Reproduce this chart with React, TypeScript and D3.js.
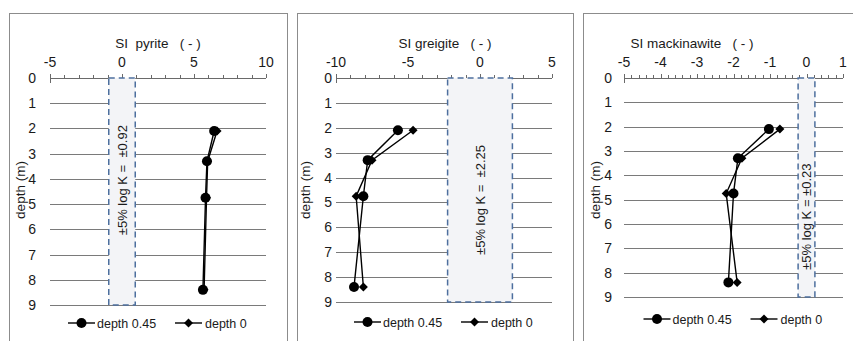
import React from "react";
import * as d3 from "d3";

// ---- data ----
const depths = [2.1, 3.3, 4.75, 8.4];
const pyrite045 = [6.4, 5.9, 5.8, 5.62];
const pyrite0 = [6.6, 5.95, 5.87, 5.7];
const greigite045 = [-5.7, -7.8, -8.1, -8.75];
const greigite0 = [-4.65, -7.5, -8.6, -8.1];
const mack045 = [-1.03, -1.88, -2.0, -2.14];
const mack0 = [-0.73, -1.77, -2.2, -1.9];
const seriesNames = ["depth 0.45", "depth 0"];
const titles = ["SI  pyrite   ( - )", "SI greigite   ( - )", "SI mackinawite   ( - )"];
const bandValues = [0.92, 2.25, 0.23];
const bandLabels = ["±5% log K =  ±0.92", "±5% log K =  ±2.25", "±5% log K = ±0.23"];
const xDomains: [number, number][] = [[-5, 10], [-10, 5], [-5, 1]];
const xTickSteps = [5, 5, 1];
const xMinorSteps = [1, 1, 0.2];
const depthTicks = [0, 1, 2, 3, 4, 5, 6, 7, 8, 9];

// ---- layout ----
const layouts = [
  { bx: 9, bw: 278, x0: 50, x1: 266, y1: 305, yTickX: 36, yLabX: 20, titleX: 158, legY: 323, bandTextDepth: 4.05 },
  { bx: 297, bw: 276, x0: 336, x1: 552, y1: 302, yTickX: 332, yLabX: 305, titleX: 445, legY: 322, bandTextDepth: 4.9 },
  { bx: 583, bw: 290, x0: 624, x1: 843, y1: 297, yTickX: 612, yLabX: 595, titleX: 692, legY: 319, bandTextDepth: 5.7 },
];
const Y0 = 78;
const FONT = "'Liberation Sans', Arial, sans-serif";
const TXT = "#1a1a1a";

const diamond = (cx: number, cy: number, r: number) =>
  `M${cx},${cy - r}L${cx + r},${cy}L${cx},${cy + r}L${cx - r},${cy}Z`;

function Panel({ i }: { i: number }) {
  const L = layouts[i];
  const x = d3.scaleLinear().domain(xDomains[i]).range([L.x0, L.x1]);
  const y = d3.scaleLinear().domain([0, 9]).range([Y0, L.y1]);
  const [dmin, dmax] = xDomains[i];
  const majors = d3.range(dmin, dmax + 1e-9, xTickSteps[i]);
  const nMinor = Math.round((dmax - dmin) / xMinorSteps[i]);
  const minors = d3.range(0, nMinor + 1).map((k) => dmin + k * xMinorSteps[i]);
  const all = [[pyrite045, pyrite0], [greigite045, greigite0], [mack045, mack0]];
  const series = all[i];
  const line = d3
    .line<number>()
    .x((v) => x(v))
    .y((_, k) => y(depths[k]));
  const bv = bandValues[i];
  const cx = x(0);
  const legCenter = (L.x0 + L.x1) / 2;
  const legStart = legCenter - 90;
  return (
    <g>
      <rect x={L.bx + 0.5} y={13.5} width={L.bw} height={340} fill="#fff" stroke="#8c8c8c" strokeWidth={1} />
      {/* gridlines */}
      {depthTicks.slice(1).map((d) => (
        <line key={d} x1={L.x0} x2={L.x1} y1={Math.round(y(d)) + 0.5} y2={Math.round(y(d)) + 0.5} stroke="#7a7a7a" strokeWidth={1} />
      ))}
      {/* top axis */}
      <line x1={L.x0} x2={L.x1} y1={Y0 + 0.5} y2={Y0 + 0.5} stroke="#6a6a6a" strokeWidth={1} />
      {minors.map((v, k) => (
        <line key={k} x1={Math.round(x(v)) + 0.5} x2={Math.round(x(v)) + 0.5} y1={Y0} y2={Y0 - 3} stroke="#6a6a6a" strokeWidth={1} />
      ))}
      {majors.map((v, k) => (
        <line key={k} x1={Math.round(x(v)) + 0.5} x2={Math.round(x(v)) + 0.5} y1={Y0} y2={Y0 - 4} stroke="#6a6a6a" strokeWidth={1} />
      ))}
      <line x1={L.x0 + 0.5} x2={L.x0 + 0.5} y1={Y0 - 3} y2={Y0 + 5} stroke="#6a6a6a" strokeWidth={1} />
      {/* band */}
      <rect x={x(-bv)} y={Y0} width={x(bv) - x(-bv)} height={L.y1 - Y0} fill="#f3f4f7" stroke="#4d6f9e" strokeWidth={1.5} strokeDasharray="6,4" />
      <text
        transform={`translate(${cx + 4.5},${y(L.bandTextDepth)}) rotate(-90)`}
        textAnchor="middle"
        fontFamily={FONT}
        fontSize={13}
        fill={TXT}
        style={{ whiteSpace: "pre" }}
      >
        {bandLabels[i]}
      </text>
      {/* x tick labels */}
      {majors.map((v, k) => (
        <text key={k} x={x(v)} y={67} textAnchor="middle" fontFamily={FONT} fontSize={14} fill={TXT}>
          {v}
        </text>
      ))}
      <text x={L.titleX} y={48} textAnchor="middle" fontFamily={FONT} fontSize={13.5} fill={TXT} style={{ whiteSpace: "pre" }}>
        {titles[i]}
      </text>
      {/* y tick labels */}
      {depthTicks.map((d) => (
        <text key={d} x={L.yTickX} y={y(d) + 5} textAnchor="end" fontFamily={FONT} fontSize={14} fill={TXT}>
          {d}
        </text>
      ))}
      <text transform={`translate(${L.yLabX + 5},${190}) rotate(-90)`} textAnchor="middle" fontFamily={FONT} fontSize={13.5} fill={TXT}>
        depth (m)
      </text>
      {/* series */}
      {series.map((s, si) => (
        <path key={si} d={line(s) || ""} fill="none" stroke="#000" strokeWidth={1.4} />
      ))}
      {series[1].map((v, k) => (
        <path key={"d" + k} d={diamond(x(v), y(depths[k]), 4.5)} fill="#000" />
      ))}
      {series[0].map((v, k) => (
        <circle key={"c" + k} cx={x(v)} cy={y(depths[k])} r={5} fill="#000" />
      ))}
      {/* legend */}
      <g fontFamily={FONT} fontSize={12.5} fill={TXT}>
        <line x1={legStart} x2={legStart + 27} y1={L.legY} y2={L.legY} stroke="#000" strokeWidth={1.4} />
        <circle cx={legStart + 13.5} cy={L.legY} r={5} fill="#000" />
        <text x={legStart + 29} y={L.legY + 4.5}>{seriesNames[0]}</text>
        <line x1={legStart + 107} x2={legStart + 134} y1={L.legY} y2={L.legY} stroke="#000" strokeWidth={1.4} />
        <path d={diamond(legStart + 120.5, L.legY, 4.5)} fill="#000" />
        <text x={legStart + 137} y={L.legY + 4.5}>{seriesNames[1]}</text>
      </g>
    </g>
  );
}

export default function App() {
  return (
    <svg width={853} height={341} style={{ position: "fixed", left: 0, top: 0, background: "#fff" }}>
      <rect width={853} height={341} fill="#fff" />
      {[0, 1, 2].map((i) => (
        <Panel key={i} i={i} />
      ))}
    </svg>
  );
}
